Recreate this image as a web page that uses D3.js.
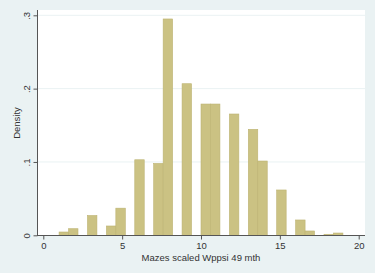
<!DOCTYPE html>
<html>
<head>
<meta charset="utf-8">
<script src="https://cdn.jsdelivr.net/npm/d3@7"></script>
<style>
  body { margin: 0; background: #eaf2f3; }
  svg { display: block; font-family: "Liberation Sans", Arial, sans-serif; }
</style>
</head>
<body>
<svg width="375" height="273"></svg>
<script>
// bin starts (width 0.6, from 1) and the density
var binStart = [1.0, 1.6, 2.8, 4.0, 4.6, 5.8, 7.0, 7.6, 8.8, 10.0, 10.6, 11.8, 13.0, 13.6, 14.8, 16.0, 16.6, 17.8, 18.4];
var density  = [0.0045, 0.009, 0.027, 0.0127, 0.037, 0.103, 0.098, 0.295, 0.2067, 0.179, 0.179, 0.1654, 0.1445, 0.1013, 0.0618, 0.0209, 0.0059, 0.0014, 0.0031];
var binWidth = 0.6;
var xTicks = [0, 5, 10, 15, 20];
var yTicks = [0, 0.1, 0.2, 0.3];
var yTickLabels = ["0", ".1", ".2", ".3"];

var svg = d3.select("svg");

var x = d3.scaleLinear().domain([0, 20]).range([43.3, 358.7]);
var y = d3.scaleLinear().domain([0, 0.3]).range([235.3, 15.3]);

// plot region
svg.append("rect")
  .attr("x", 37).attr("y", 10)
  .attr("width", 328).attr("height", 225.5)
  .attr("fill", "#ffffff");

// grid lines
svg.append("g").selectAll("line")
  .data(yTicks.slice(1))
  .enter().append("line")
  .attr("x1", 37).attr("x2", 365)
  .attr("y1", function(d) { return y(d); })
  .attr("y2", function(d) { return y(d); })
  .attr("stroke", "#eaf2f3")
  .attr("stroke-width", 1);

// bars
svg.append("g").selectAll("rect")
  .data(binStart)
  .enter().append("rect")
  .attr("x", function(d) { return x(d); })
  .attr("width", function(d) { return x(d + binWidth) - x(d); })
  .attr("y", function(d, i) { return y(density[i]); })
  .attr("height", function(d, i) { return y(0) - y(density[i]); })
  .attr("fill", "#cbc283")
  .attr("stroke", "#bdb372")
  .attr("stroke-width", 0.6);

// x axis
var xAxis = svg.append("g")
  .attr("transform", "translate(0,235.5)")
  .call(d3.axisBottom(x).tickValues(xTicks).tickSize(4).tickPadding(3));
xAxis.select(".domain").attr("d", "M37,0H365").attr("stroke", "#555");
xAxis.selectAll(".tick line").attr("stroke", "#555");
xAxis.selectAll("text").attr("font-size", 9.5).attr("fill", "#333")
  .attr("font-family", "Liberation Sans, Arial, sans-serif");

// y axis, labels turned like the title
var yAxis = svg.append("g")
  .attr("transform", "translate(37.5,0)")
  .call(d3.axisLeft(y).tickValues(yTicks).tickSize(4)
    .tickFormat(function(d, i) { return yTickLabels[i]; }));
yAxis.select(".domain").attr("d", "M0,10V235.5").attr("stroke", "#555");
yAxis.selectAll(".tick line").attr("stroke", "#555");
yAxis.selectAll("text")
  .attr("font-size", 9.5).attr("fill", "#333")
  .attr("font-family", "Liberation Sans, Arial, sans-serif")
  .attr("x", 0).attr("y", -8).attr("dy", 0)
  .attr("text-anchor", "middle")
  .attr("transform", "rotate(-90)");

// titles
svg.append("text")
  .attr("x", 201).attr("y", 261)
  .attr("text-anchor", "middle")
  .attr("font-size", 9.5).attr("fill", "#333")
  .text("Mazes scaled Wppsi 49 mth");

svg.append("text")
  .attr("transform", "translate(19.5,123) rotate(-90)")
  .attr("text-anchor", "middle")
  .attr("font-size", 9.5).attr("fill", "#333")
  .text("Density");
</script>
</body>
</html>
